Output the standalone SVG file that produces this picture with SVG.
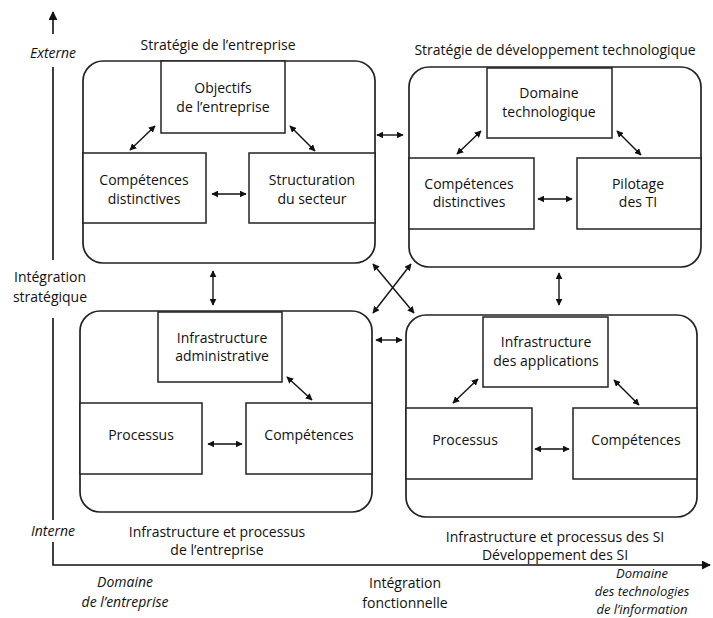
<svg xmlns="http://www.w3.org/2000/svg" width="713" height="618" viewBox="0 0 713 618">
<defs>
<marker id="ah" viewBox="0 0 10 10" refX="9" refY="5" markerWidth="7" markerHeight="7" markerUnits="userSpaceOnUse" orient="auto-start-reverse">
<path d="M0,0 L10,5 L0,10 z" fill="#111"/>
</marker>
<marker id="axh" viewBox="0 0 10 10" refX="9" refY="5" markerWidth="9" markerHeight="9" markerUnits="userSpaceOnUse" orient="auto">
<path d="M0,0 L10,5 L0,10 z" fill="#111"/>
</marker>
<style>
.frame{fill:#fff;stroke:#222;stroke-width:1.7}
.box{fill:#fff;stroke:#222;stroke-width:1.5}
.t{font-family:"Open Sans","Liberation Sans",sans-serif;font-size:14px;fill:#111;text-anchor:middle}
.i{font-style:italic}
.s{font-size:13px}
.ax{stroke:#111;stroke-width:1.6;fill:none}
.c{stroke:#111;stroke-width:1.4;fill:none;marker-start:url(#ah);marker-end:url(#ah)}
</style>
</defs>
<rect width="713" height="618" fill="#fff"/>

<g id="axes">
<line class="ax" x1="53" y1="34" x2="53" y2="12" marker-end="url(#axh)"/>
<line class="ax" x1="53" y1="67" x2="53" y2="260"/>
<line class="ax" x1="53" y1="318" x2="53" y2="520"/>
<polyline class="ax" points="53,542 53,565 710,565" marker-end="url(#axh)"/>
<text class="t i" x="53" y="58">Externe</text>
<text class="t" x="50" y="282">Intégration</text>
<text class="t" x="50" y="302">stratégique</text>
<text class="t i" x="53" y="536">Interne</text>
<text class="t i" x="125" y="587">Domaine</text>
<text class="t i" x="125" y="607">de l’entreprise</text>
<text class="t" x="405" y="588">Intégration</text>
<text class="t" x="405" y="608">fonctionnelle</text>
<text class="t i s" x="642" y="578">Domaine</text>
<text class="t i s" x="642" y="596">des technologies</text>
<text class="t i s" x="642" y="614">de l’information</text>
</g>

<g id="strategie-entreprise">
<text class="t" x="218" y="50">Stratégie de l’entreprise</text>
<rect class="frame" x="83" y="61" width="292" height="202" rx="20"/>
<g id="objectifs"><rect class="box" x="161" y="61" width="124" height="72"/>
<text class="t" x="223" y="93">Objectifs</text><text class="t" x="223" y="112">de l’entreprise</text></g>
<g id="competences-distinctives-1"><rect class="box" x="83" y="153" width="123" height="70"/>
<text class="t" x="144" y="185">Compétences</text><text class="t" x="144" y="204">distinctives</text></g>
<g id="structuration"><rect class="box" x="249" y="153" width="126" height="70"/>
<text class="t" x="312" y="185">Structuration</text><text class="t" x="312" y="204">du secteur</text></g>
</g>

<g id="strategie-techno">
<text class="t" x="555" y="55">Stratégie de développement technologique</text>
<rect class="frame" x="409" y="67" width="292" height="200" rx="20"/>
<g id="domaine-techno"><rect class="box" x="487" y="68" width="125" height="70"/>
<text class="t" x="549" y="98">Domaine</text><text class="t" x="549" y="117">technologique</text></g>
<g id="competences-distinctives-2"><rect class="box" x="409" y="158" width="125" height="71"/>
<text class="t" x="469" y="189">Compétences</text><text class="t" x="469" y="207">distinctives</text></g>
<g id="pilotage"><rect class="box" x="577" y="158" width="124" height="71"/>
<text class="t" x="638" y="189">Pilotage</text><text class="t" x="638" y="207">des TI</text></g>
</g>

<g id="infra-entreprise">
<rect class="frame" x="80" y="311" width="292" height="201" rx="20"/>
<g id="infra-admin"><rect class="box" x="158" y="312" width="124" height="70"/>
<text class="t" x="222" y="343">Infrastructure</text><text class="t" x="222" y="361">administrative</text></g>
<g id="processus-1"><rect class="box" x="80" y="403" width="122" height="71"/>
<text class="t" x="141" y="440">Processus</text></g>
<g id="competences-1"><rect class="box" x="246" y="403" width="126" height="71"/>
<text class="t" x="309" y="440">Compétences</text></g>
<text class="t" x="217" y="537">Infrastructure et processus</text>
<text class="t" x="217" y="555">de l’entreprise</text>
</g>

<g id="infra-si">
<rect class="frame" x="406" y="315" width="291" height="202" rx="20"/>
<g id="infra-applications"><rect class="box" x="483" y="317" width="125" height="70"/>
<text class="t" x="546" y="347">Infrastructure</text><text class="t" x="546" y="366">des applications</text></g>
<g id="processus-2"><rect class="box" x="406" y="408" width="126" height="71"/>
<text class="t" x="465" y="445">Processus</text></g>
<g id="competences-2"><rect class="box" x="573" y="408" width="124" height="71"/>
<text class="t" x="636" y="445">Compétences</text></g>
<text class="t" x="555" y="542">Infrastructure et processus des SI</text>
<text class="t" x="555" y="560">Développement des SI</text>
</g>

<g id="connectors">
<line class="c" x1="130" y1="150" x2="155" y2="126"/>
<line class="c" x1="290" y1="126" x2="315" y2="151"/>
<line class="c" x1="212" y1="194" x2="246" y2="194"/>
<line class="c" x1="457" y1="154" x2="481" y2="131"/>
<line class="c" x1="617" y1="131" x2="641" y2="155"/>
<line class="c" x1="538" y1="199" x2="572" y2="199"/>
<line class="c" x1="287" y1="377" x2="312" y2="400"/>
<line class="c" x1="208" y1="444" x2="242" y2="444"/>
<line class="c" x1="453" y1="403" x2="478" y2="379"/>
<line class="c" x1="614" y1="380" x2="639" y2="405"/>
<line class="c" x1="535" y1="449" x2="569" y2="449"/>
<line class="c" x1="377" y1="135" x2="403" y2="135"/>
<line class="c" x1="376" y1="340" x2="402" y2="340"/>
<line class="c" x1="213" y1="271" x2="213" y2="305"/>
<line class="c" x1="559" y1="273" x2="559" y2="305"/>
<line class="c" x1="373" y1="264" x2="414" y2="313"/>
<line class="c" x1="411" y1="264" x2="373" y2="313"/>
</g>
</svg>
